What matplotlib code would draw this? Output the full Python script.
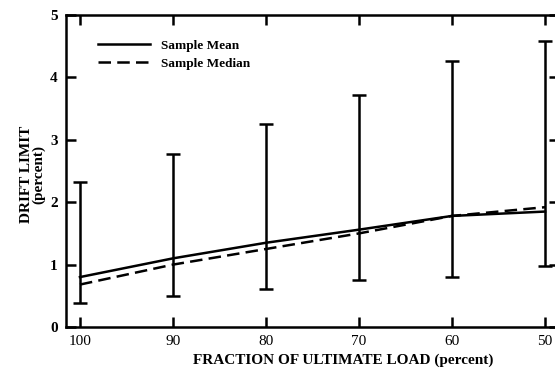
import matplotlib
matplotlib.use("Agg")
import matplotlib.pyplot as plt

load_fraction = [100, 90, 80, 70, 60, 50]
sample_mean = [0.80, 1.10, 1.35, 1.56, 1.78, 1.85]
sample_median = [0.68, 1.00, 1.25, 1.50, 1.78, 1.92]
range_low = [0.38, 0.50, 0.61, 0.75, 0.80, 0.98]
range_high = [2.32, 2.78, 3.25, 3.71, 4.27, 4.58]
x_ticks = [100, 90, 80, 70, 60, 50]
y_ticks = [0, 1, 2, 3, 4, 5]

plt.rcParams['font.family'] = ['Liberation Serif', 'DejaVu Serif']

fig = plt.figure(figsize=(5.55, 3.71), dpi=100)
ax = fig.add_axes([66/555, 44/371, 493/555, 312/371])

ax.plot(load_fraction, sample_mean, color='black', lw=1.8, label='Sample Mean')
ax.plot(load_fraction, sample_median, color='black', lw=1.8, ls=(0, (5, 2.5)), label='Sample Median')
mid = [(l + h) / 2 for l, h in zip(range_low, range_high)]
err = [[m - l for m, l in zip(mid, range_low)], [h - m for h, m in zip(range_high, mid)]]
ax.errorbar(load_fraction, mid, yerr=err, fmt='none', ecolor='black', elinewidth=1.8,
            capsize=5, capthick=1.8)

ax.set_xlim(101.5, 48.5)
ax.set_ylim(0, 5)
ax.set_xticks(x_ticks)
ax.set_yticks(y_ticks)
ax.set_xticklabels([str(v) for v in x_ticks], fontsize=11)
ax.set_yticklabels([str(v) for v in y_ticks], fontsize=11, fontweight='bold')
ax.tick_params(direction='in', length=7, width=1.8, top=True, right=True, pad=6)
for s in ax.spines.values():
    s.set_linewidth(1.8)

ax.set_xlabel('FRACTION OF ULTIMATE LOAD (percent)', fontsize=11, fontweight='bold')
ax.xaxis.set_label_coords((343 - 66) / 493, -0.085)
ax.set_ylabel('DRIFT LIMIT\n(percent)', fontsize=11, fontweight='bold', linespacing=0.9)
ax.yaxis.set_label_coords(-(66 - 45) / 493, 0.49)

leg = ax.legend(loc='upper left', bbox_to_anchor=(0.04, 0.96), frameon=False,
                prop={'size': 9.5, 'weight': 'bold'}, handlelength=4.0,
                handletextpad=0.8, labelspacing=0.45)

fig.savefig('out.png', dpi=100)
